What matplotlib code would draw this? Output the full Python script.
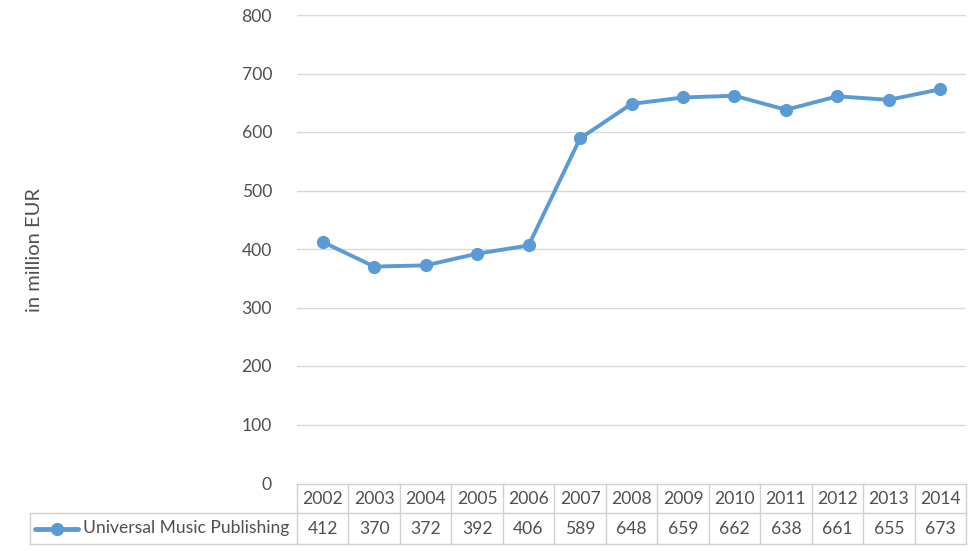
import matplotlib.pyplot as plt
from matplotlib.lines import Line2D

plt.rcParams['font.family'] = ['Lato', 'DejaVu Sans']

years = [2002, 2003, 2004, 2005, 2006, 2007, 2008, 2009, 2010, 2011, 2012, 2013, 2014]
revenue = [412, 370, 372, 392, 406, 589, 648, 659, 662, 638, 661, 655, 673]
series_name = "Universal Music Publishing"
yticks = [0, 100, 200, 300, 400, 500, 600, 700, 800]

blue = "#5B9BD5"
grid = "#D9D9D9"
txt = "#505050"
fs = 12.6

W, H = 980, 551
fig = plt.figure(figsize=(W / 100, H / 100), dpi=100)

# plot area (pixel coords of the reference)
x0, x1 = 297, 966
ytop, ybot = 15, 483
ax = fig.add_axes([x0 / W, 1 - ybot / H, (x1 - x0) / W, (ybot - ytop) / H])
n = len(years)
xs = [i + 0.5 for i in range(n)]
ax.plot(xs, revenue, color=blue, lw=2.8, marker="o", ms=8.5, mfc=blue, mec=blue, zorder=3)
ax.set_xlim(0, n)
ax.set_ylim(0, 800)
ax.set_yticks(yticks)
ax.set_yticklabels([str(v) for v in yticks], fontsize=fs, color=txt)
ax.tick_params(axis="y", length=0, pad=18)
ax.set_xticks([])
for v in yticks:
    ax.axhline(v, color=grid, lw=1, zorder=1)
for s in ax.spines.values():
    s.set_visible(False)

fig.text(35 / W, 1 - 250 / H, "in million EUR", rotation=90, ha="center", va="center",
         fontsize=14.5, color=txt)

# data table below the plot
r0, r1, r2 = 484, 513, 544
lx = 30
colw = (x1 - x0) / n
tab = fig.add_axes([0, 0, 1, 1])
tab.set_xlim(0, W)
tab.set_ylim(H, 0)
tab.axis("off")
lc = "#D0D0D0"
tab.add_line(Line2D([x0, x1], [r0, r0], color=lc, lw=1))
tab.add_line(Line2D([lx, x1], [r1, r1], color=lc, lw=1))
tab.add_line(Line2D([lx, x1], [r2, r2], color=lc, lw=1))
tab.add_line(Line2D([lx, lx], [r1, r2], color=lc, lw=1))
for i in range(n + 1):
    xx = x0 + i * colw
    tab.add_line(Line2D([xx, xx], [r0, r2], color=lc, lw=1))
for i, (yr, v) in enumerate(zip(years, revenue)):
    cx = x0 + (i + 0.5) * colw
    tab.text(cx, (r0 + r1) / 2, str(yr), ha="center", va="center", fontsize=fs, color=txt)
    tab.text(cx, (r1 + r2) / 2, str(v), ha="center", va="center", fontsize=fs, color=txt)
ym = (r1 + r2) / 2
tab.add_line(Line2D([35, 78], [ym, ym], color=blue, lw=3.5, solid_capstyle="round"))
tab.plot([57], [ym], marker="o", ms=8.5, color=blue)
tab.text(83, ym, series_name, ha="left", va="center", fontsize=fs, color=txt)

fig.savefig("out.png", dpi=100, facecolor="white")
